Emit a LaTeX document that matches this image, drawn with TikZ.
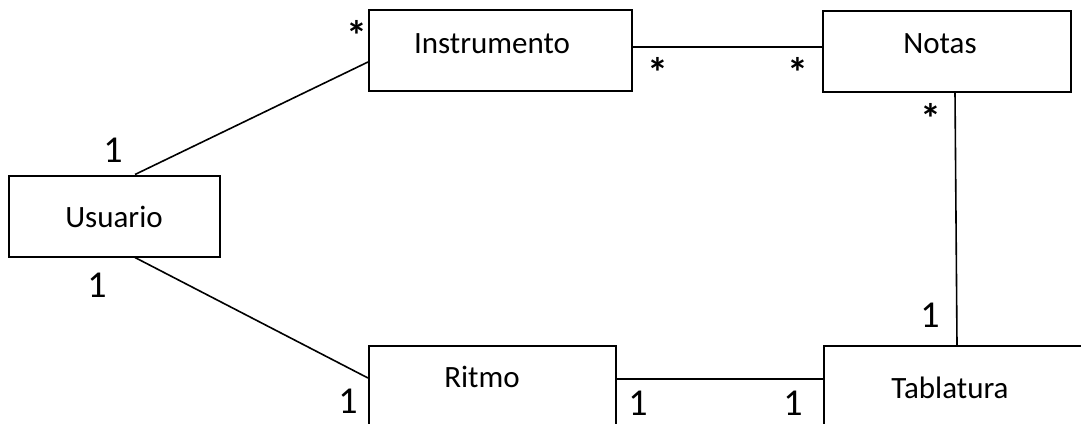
\documentclass[tikz,border=0pt]{standalone}
\usepackage{fontspec}
\setmainfont{Carlito}
\usetikzlibrary{calc}

\tikzset{
    clase/.style={draw,line width=1pt,minimum height=40.5pt,inner sep=0pt},
    nombre/.style={anchor=base,font=\fontsize{15.5}{18}\selectfont},
    mult/.style={anchor=base,font=\fontsize{19}{22}\selectfont},
    muchos/.style={anchor=base,font=\fontsize{21}{24}\selectfont\bfseries}
}

\begin{document}
\begin{tikzpicture}[x=0.5pt,y=-0.5pt]
    \clip (0,0) rectangle (1081,423);

    \node (usuario) at (114.5,216) [clase,minimum width=105.5pt]{};
    \node (instr) at (500.5,50.5) [clase,minimum width=131.5pt]{};
    \node (notas) at (947,51) [clase,minimum width=124pt]{};
    \node (ritmo) at (492.5,386.5) [clase,minimum width=123.5pt]{};
    \node (tab) at (957,386.5) [clase,minimum width=133pt]{};

    \node (usuarioT) at (114,227) [nombre] {Usuario};
    \node (instrT) at (492,53) [nombre] {Instrumento};
    \node (notasT) at (940,53) [nombre] {Notas};
    \node (ritmoT) at (482,387) [nombre] {Ritmo};
    \node (tabT) at (950,398) [nombre] {Tablatura};

    \draw[line width=0.8pt] ($(usuario.north)+(20.5,0)$) -- ($(instr.west)+(0,11.5)$);
    \draw[line width=0.8pt] ($(usuario.south)+(20.5,0)$) -- ($(ritmo.west)+(0,-8.5)$);
    \draw[line width=0.8pt] ($(instr.east)+(0,-3.5)$) -- ($(notas.west)+(0,-4)$);
    \draw[line width=0.8pt] ($(notas.south)+(8,0)$) -- (tab.north);
    \draw[line width=0.8pt] ($(ritmo.east)+(0,-7.5)$) -- ($(tab.west)+(0,-7.5)$);

    % multiplicidades
    \node (m1) at (357,50) [muchos] {*};
    \node (m2) at (113,162) [mult] {1};
    \node (m3) at (97,297) [mult] {1};
    \node (m4) at (348,413) [mult] {1};
    \node (m5) at (658,87) [muchos] {*};
    \node (m6) at (798,87) [muchos] {*};
    \node (m7) at (931,133) [muchos] {*};
    \node (m8) at (930,327) [mult] {1};
    \node (m9) at (638,415) [mult] {1};
    \node (m10) at (793,415) [mult] {1};
\end{tikzpicture}
\end{document}
